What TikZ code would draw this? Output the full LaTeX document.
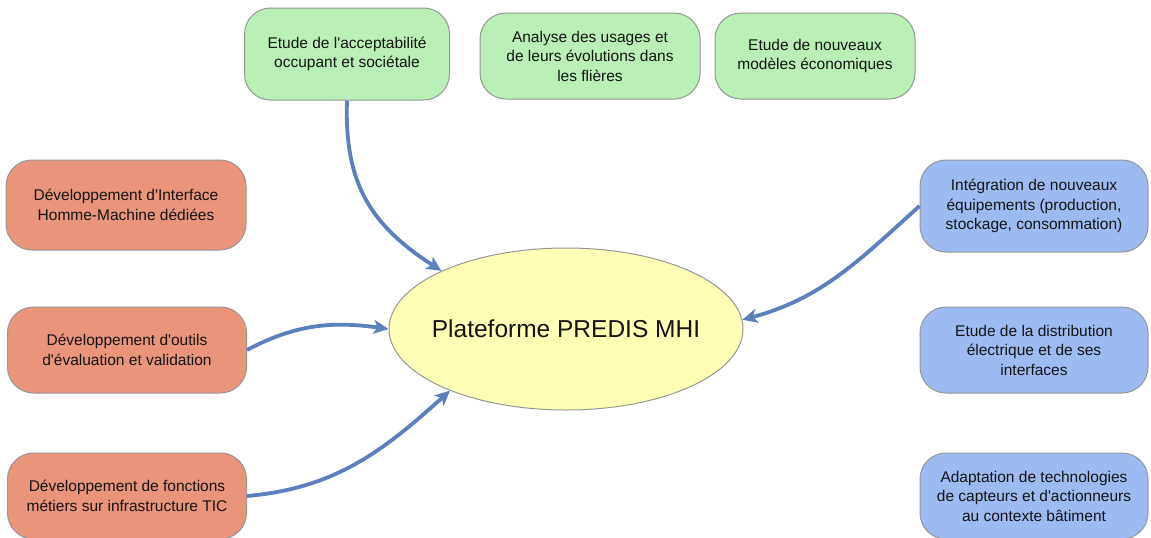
\documentclass[tikz,border=0pt]{standalone}
\usepackage{fontspec}
\setmainfont{Liberation Sans}
\usetikzlibrary{arrows.meta,shapes.geometric}
\definecolor{gfill}{RGB}{184,240,182}
\definecolor{ofill}{RGB}{234,148,122}
\definecolor{bfill}{RGB}{158,186,242}
\definecolor{yfill}{RGB}{255,255,182}
\definecolor{bord}{RGB}{150,150,150}
\definecolor{arr}{RGB}{92,128,190}
\definecolor{txt}{RGB}{20,20,20}
\newcommand\ap{\textquotesingle}
\begin{document}
\begin{tikzpicture}[x=1pt,y=-1pt,
  box/.style={draw=bord, line width=1pt, rounded corners=26pt, align=center,
    text=txt, font=\fontsize{15.5}{19.5}\selectfont, inner sep=0pt},
  gbox/.style={box, fill=gfill},
  obox/.style={box, fill=ofill},
  bbox/.style={box, fill=bfill},
  link/.style={draw=arr, line width=3.8pt, -{Stealth[length=15pt,width=14pt,inset=4pt]}},
]
\useasboundingbox (0,0) rectangle (1151,538);
\fill[white] (0,0) rectangle (1151,538);

\node[gbox, minimum width=205pt, minimum height=92pt] (t1) at (347,54) {Etude de l\ap acceptabilité\\occupant et sociétale};
\node[gbox, minimum width=220pt, minimum height=86pt] (t2) at (590,56) {Analyse des usages et\\de leurs évolutions dans\\les flières};
\node[gbox, minimum width=200pt, minimum height=86pt] (t3) at (815,56) {Etude de nouveaux\\modèles économiques};

\node[obox, minimum width=240pt, minimum height=90pt] (l1) at (126,205) {Développement d\ap Interface\\Homme-Machine dédiées};
\node[obox, minimum width=239pt, minimum height=86pt] (l2) at (127,350) {Développement d\ap outils\\d\ap évaluation et validation};
\node[obox, minimum width=239pt, minimum height=86pt] (l3) at (127,496) {Développement de fonctions\\métiers sur infrastructure TIC};

\node[bbox, minimum width=228pt, minimum height=92pt] (r1) at (1034,206) {Intégration de nouveaux\\équipements (production,\\stockage, consommation)};
\node[bbox, minimum width=228pt, minimum height=86pt] (r2) at (1034,350) {Etude de la distribution\\électrique et de ses\\interfaces};
\node[bbox, minimum width=228pt, minimum height=86pt] (r3) at (1034,496) {Adaptation de technologies\\de capteurs et d\ap actionneurs\\au contexte bâtiment};

\node[ellipse, draw=bord, line width=1pt, fill=yfill, minimum width=354pt, minimum height=162pt,
  inner sep=0pt] (e) at (566,329) {};
\node[text=txt, font=\fontsize{24.5}{28}\selectfont, inner sep=0pt] (etext) at (e.center) {Plateforme PREDIS MHI};

\draw[link] (t1.south) to[out=-92, in=147, looseness=1.1] (e.155);
\draw[link] (l2.east) to[out=28, in=172] (e.west);
\draw[link] (l3.east) to[out=5, in=222] (e.208);
\draw[link] (r1.west) to[out=222, in=15] (e.3);
\end{tikzpicture}
\end{document}
